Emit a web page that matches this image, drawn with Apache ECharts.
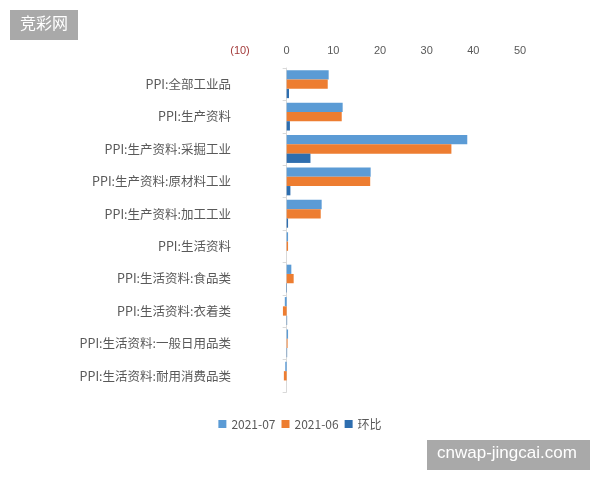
<!DOCTYPE html>
<html><head><meta charset="utf-8">
<script src="https://cdn.jsdelivr.net/npm/echarts@6/dist/echarts.min.js"></script>
<style>html,body{margin:0;padding:0;background:#fff}#c{width:600px;height:480px}</style>
</head><body><div id="c"></div>
<script>
var categories = ['PPI:全部工业品','PPI:生产资料','PPI:生产资料:采掘工业','PPI:生产资料:原材料工业','PPI:生产资料:加工工业','PPI:生活资料','PPI:生活资料:食品类','PPI:生活资料:衣着类','PPI:生活资料:一般日用品类','PPI:生活资料:耐用消费品类'];
var jul = [9.0, 12.0, 38.7, 18.0, 7.5, 0.3, 1.0, -0.4, 0.3, -0.3];
var jun = [8.8, 11.8, 35.3, 17.9, 7.3, 0.3, 1.5, -0.8, 0.2, -0.6];
var mom = [0.5, 0.7, 5.1, 0.8, 0.3, 0.0, -0.1, 0.1, 0.1, 0.0];
var xTicks = [-10, 0, 10, 20, 30, 40, 50];

var chart = echarts.init(document.getElementById('c'));
chart.setOption({
  animation: false,
  grid: {left: 240, right: 80, top: 68, bottom: 88, containLabel: false},
  legend: {
    bottom: 45, left: 'center', itemWidth: 8, itemHeight: 8, itemGap: 6, icon: 'rect',
    textStyle: {color: '#595959', fontSize: 12, fontFamily: 'Noto Sans CJK SC'},
    data: ['2021-07', '2021-06', '环比']
  },
  xAxis: {
    type: 'value', position: 'top', min: xTicks[0], max: xTicks[xTicks.length-1], interval: 10,
    axisLine: {show: false}, axisTick: {show: false}, splitLine: {show: false},
    axisLabel: {
      fontSize: 11, fontFamily: 'Arial', margin: 12,
      color: function(v){ return v < 0 ? '#a33b3b' : '#595959'; },
      formatter: function(v){ return v < 0 ? '(' + Math.abs(v) + ')' : String(v); }
    }
  },
  yAxis: {
    type: 'category', inverse: true, data: categories,
    axisLine: {show: true, onZero: true, lineStyle: {color: '#d9d9d9'}},
    axisTick: {show: true, inside: false, length: 4, lineStyle: {color: '#d9d9d9'}},
    axisLabel: {fontSize: 12.5, color: '#595959', margin: 9, fontFamily: 'Noto Sans CJK SC'}
  },
  series: [
    {name: '2021-07', type: 'bar', data: jul, barGap: '0%', barCategoryGap: '14%', itemStyle: {color: '#5b9bd5'}},
    {name: '2021-06', type: 'bar', data: jun, barGap: '0%', barCategoryGap: '14%', itemStyle: {color: '#ed7d31'}},
    {name: '环比', type: 'bar', data: mom, barGap: '0%', barCategoryGap: '14%', itemStyle: {color: '#2e6eaf'}}
  ],
  graphic: [
    {type: 'rect', left: 10, top: 10, shape: {width: 68, height: 30}, style: {fill: '#a9a9a9'}},
    {type: 'text', left: 20, top: 15, style: {text: '竞彩网', fill: '#fff', fontSize: 16, fontFamily: 'Noto Sans CJK SC'}},
    {type: 'rect', left: 427, top: 440, shape: {width: 163, height: 30}, style: {fill: '#a9a9a9'}},
    {type: 'text', left: 437, top: 445, style: {text: 'cnwap-jingcai.com', fill: '#fff', fontSize: 17, fontFamily: 'Arial'}}
  ]
});
</script></body></html>
